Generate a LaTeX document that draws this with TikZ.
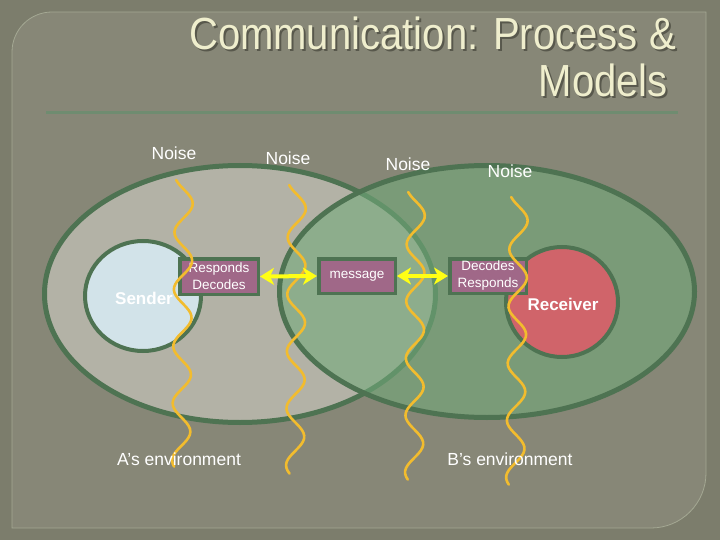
\documentclass[tikz,border=0pt]{standalone}
\usepackage{fontspec}
\usepackage{graphicx}
\setmainfont{Liberation Sans}
\usetikzlibrary{shapes.geometric,arrows.meta}
\definecolor{frameC}{HTML}{7C7D6C}
\definecolor{panelC}{HTML}{878777}
\definecolor{panelLine}{HTML}{A4A893}
\definecolor{titleC}{HTML}{EFEECD}
\definecolor{shadowC}{HTML}{45453A}
\definecolor{sepC}{HTML}{6F8C70}
\definecolor{greyEll}{HTML}{B3B2A6}
\definecolor{greenEll}{HTML}{72AA7A}
\definecolor{borderG}{HTML}{4E7352}
\definecolor{senderC}{HTML}{D2E3E9}
\definecolor{receiverC}{HTML}{D0646A}
\definecolor{boxC}{HTML}{A06888}
\definecolor{noiseC}{HTML}{F2BC2E}
\definecolor{arrowC}{HTML}{FFFF14}
\tikzset{
 env/.style={ellipse, draw=borderG, line width=5pt, inner sep=0pt},
 person/.style={ellipse, draw=borderG, line width=4pt, inner sep=0pt, text=white, font=\fontsize{17}{20}\selectfont\bfseries},
 codebox/.style={rectangle, draw=borderG, line width=3.5pt, fill=boxC, text=white, inner sep=0pt, align=center, font=\fontsize{13.5}{17}\selectfont},
 lbl/.style={text=white, inner sep=0pt, font=\fontsize{17.5}{20}\selectfont},
 titletext/.style={anchor=base east, inner sep=0pt, font=\fontsize{45}{50}\selectfont},
 noiseline/.style={draw=noiseC, line width=2.6pt, line cap=round},
 link/.style={draw=arrowC, line width=4pt, {Stealth[length=14pt,width=17pt,inset=4pt]}-{Stealth[length=14pt,width=17pt,inset=4pt]}},
}
\begin{document}
\begin{tikzpicture}[x=1pt,y=-1pt]
\useasboundingbox (0,0) rectangle (720,540);
% background
\fill[frameC] (0,0) rectangle (720,540);
\draw[draw=panelLine, fill=panelC, line width=0.8pt]
  (12,528) -- (12,52) arc[start angle=180, end angle=270, radius=40]
  -- (706,12) -- (706,473) arc[start angle=0, end angle=90, radius=55]
  -- cycle;
% title
\node[titletext, text=shadowC, opacity=0.7] (t1s) at (678,52) {\scalebox{0.89}[1]{Communication: Process \&}};
\node[titletext, text=shadowC, opacity=0.7] (t2s) at (670,99) {\scalebox{0.89}[1]{Models}};
\node[titletext, text=titleC] (t1) at (676,50) {\scalebox{0.89}[1]{Communication: Process \&}};
\node[titletext, text=titleC] (t2) at (668,97) {\scalebox{0.89}[1]{Models}};
\draw[sepC, line width=3pt] (46,113) -- (678,113);
% environments
\node[env, fill=greyEll, minimum width=391pt, minimum height=257pt] (envA) at (240,294) {};
\node[env, fill=greenEll, fill opacity=0.58, minimum width=415pt, minimum height=252pt] (envB) at (487,291.5) {};
% persons
\node[person, fill=senderC, minimum width=116pt, minimum height=110pt] (sender) at (143,296) {};
\node[person, fill=receiverC, minimum width=112pt, minimum height=110pt] (receiver) at (562,302) {};
% boxes
\node[codebox, minimum width=78.5pt, minimum height=35.5pt] (rd) at (219,276.5) {Responds\\Decodes};
\node[codebox, minimum width=76.5pt, minimum height=34.5pt] (msg) at (357,276) {message};
\node[codebox, minimum width=76.5pt, minimum height=34.5pt] (dr) at (488,276) {Decodes\\Responds};
% person labels
\node[lbl, font=\fontsize{17}{20}\selectfont\bfseries] (senderlbl) at (144,298) {Sender};
\node[lbl, font=\fontsize{17}{20}\selectfont\bfseries] (receiverlbl) at (563,304) {Receiver};
% noise lines
\foreach \xa/\ya/\xb/\yb in {184/180/181/467, 297/185/295/474, 416/192/414/480, 519/197/515/485}{
  \draw[noiseline] plot[smooth, samples=100, domain=0:1]
    ({\xa+(\xb-\xa)*\x+9*sin((\yb-\ya)*\x/57*360-60)}, {\ya+(\yb-\ya)*\x});
}
% arrows
\draw[link] (rd.east) -- (msg.west);
\draw[link] (msg.east) -- (dr.west);
% labels
\node[lbl] (n1) at (174,153) {Noise};
\node[lbl] (n2) at (288,158) {Noise};
\node[lbl] (n3) at (408,164) {Noise};
\node[lbl] (n4) at (510,171) {Noise};
\node[lbl] (ea) at (179,459) {A’s environment};
\node[lbl] (eb) at (510,459) {B’s environment};
\end{tikzpicture}
\end{document}
